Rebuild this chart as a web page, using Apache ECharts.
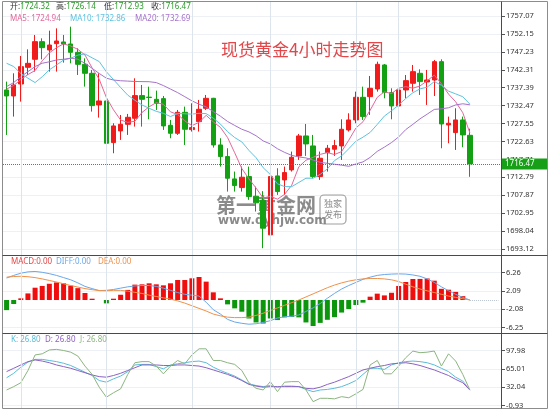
<!DOCTYPE html>
<html>
<head>
<meta charset="utf-8">
<script src="https://cdn.jsdelivr.net/npm/echarts@6/dist/echarts.min.js"></script>
<style>
  html, body { margin: 0; padding: 0; background: #fff; }
  #chart { width: 550px; height: 411px; }
</style>
</head>
<body>
<div id="chart"></div>
<script>
// 4h bars (66 bars in 70 slots)
const slots = Array.from({ length: 70 }, (_, i) => String(i));
const opens = [1736.77,1735.12,1738.41,1742.99,1745.18,1750.03,1747.74,1749.48,1749.94,1749.39,1747.10,1743.81,1741.34,1732.66,1733.75,1722.32,1725.53,1727.35,1729.00,1735.22,1734.80,1734.21,1734.39,1727.08,1724.88,1730.64,1725.89,1728.08,1731.74,1734.48,1721.68,1718.49,1712.36,1709.98,1713.00,1707.60,1706.50,1697.00,1713.18,1712.08,1714.83,1718.67,1724.15,1721.41,1713.00,1719.58,1720.50,1721.41,1725.80,1728.54,1734.76,1734.94,1737.04,1743.63,1736.04,1732.38,1736.77,1738.60,1741.34,1738.97,1739.51,1744.54,1727.17,1725.07,1728.54,1724.32];
const closes = [1735.12,1738.14,1743.17,1744.08,1750.03,1748.38,1749.11,1750.21,1749.39,1747.10,1743.81,1741.34,1732.47,1733.75,1722.14,1726.90,1727.35,1729.27,1735.22,1734.21,1734.70,1733.11,1726.90,1724.88,1730.64,1725.98,1726.44,1731.47,1734.48,1721.68,1718.49,1712.54,1710.53,1712.82,1707.51,1705.80,1698.83,1713.00,1708.88,1714.10,1718.30,1724.15,1721.96,1713.00,1718.03,1720.77,1721.50,1725.98,1728.54,1734.76,1729.46,1737.23,1743.81,1736.04,1732.38,1736.77,1739.33,1741.80,1739.06,1739.51,1744.54,1727.44,1727.63,1728.54,1724.43,1716.47];
const lows = [1724.43,1729.46,1733.57,1740.88,1741.80,1745.18,1741.80,1741.80,1744.27,1744.08,1740.88,1737.68,1730.83,1729.18,1717.11,1719.40,1723.06,1724.43,1726.71,1726.71,1728.72,1731.28,1725.80,1723.52,1724.43,1721.68,1725.35,1725.34,1731.28,1720.95,1715.74,1708.88,1708.88,1708.88,1706.60,1703.40,1693.34,1696.40,1707.97,1707.97,1714.37,1717.57,1718.67,1712.54,1712.08,1714.37,1718.67,1717.57,1725.34,1727.63,1728.54,1729.91,1736.31,1734.48,1728.72,1726.53,1734.48,1736.31,1735.40,1732.66,1735.12,1720.77,1722.14,1720.31,1721.04,1712.93];
const highs = [1739.06,1741.34,1746.10,1747.92,1751.86,1750.94,1753.04,1753.68,1751.86,1754.14,1748.20,1745.45,1742.26,1741.34,1734.03,1727.63,1729.91,1730.19,1739.97,1738.14,1737.68,1736.59,1735.12,1728.54,1731.28,1732.20,1733.11,1734.03,1735.40,1734.60,1723.52,1720.77,1714.37,1715.74,1715.74,1710.25,1709.00,1714.10,1715.28,1715.74,1719.86,1724.70,1727.44,1724.43,1719.86,1721.68,1723.06,1728.72,1730.37,1736.31,1737.68,1740.61,1744.54,1743.90,1737.23,1741.80,1740.88,1743.63,1742.44,1742.26,1745.00,1745.18,1729.46,1731.74,1729.46,1726.14];

const ma5 = [1737.0,1738.0,1739.6,1741.0,1742.11,1744.76,1746.95,1748.36,1749.42,1748.84,1747.92,1746.37,1742.82,1739.69,1734.70,1731.32,1728.52,1727.88,1728.18,1730.59,1732.15,1733.30,1732.83,1730.76,1730.05,1728.30,1726.97,1727.88,1729.80,1728.01,1726.51,1723.73,1719.54,1715.21,1712.38,1709.84,1707.10,1707.59,1706.80,1708.12,1710.62,1715.69,1717.48,1718.30,1719.09,1719.58,1719.05,1719.86,1722.96,1726.31,1728.05,1731.19,1734.76,1736.26,1735.78,1737.25,1737.67,1737.26,1737.87,1739.29,1740.85,1738.47,1735.64,1733.53,1730.52,1724.94];
const ma10 = [1744.1,1743.2,1741.3,1740.0,1738.8,1740.4,1742.3,1743.6,1745.0,1745.47,1746.34,1746.66,1745.59,1744.56,1741.77,1739.62,1737.45,1735.35,1733.94,1732.65,1731.74,1730.91,1730.36,1729.47,1730.32,1730.23,1730.14,1730.36,1730.28,1729.03,1727.41,1725.35,1723.71,1722.51,1720.19,1718.18,1715.42,1713.57,1711.01,1710.25,1710.23,1711.39,1712.54,1712.55,1713.61,1715.10,1717.37,1718.67,1720.63,1722.70,1723.82,1725.12,1727.31,1729.61,1731.05,1732.65,1734.43,1736.01,1737.06,1737.54,1739.05,1738.07,1736.45,1735.70,1734.91,1732.86];
const ma20 = [1737.7,1738.8,1740.4,1741.8,1743.2,1744.1,1744.5,1745.0,1745.2,1745.5,1745.2,1744.1,1742.7,1741.3,1740.0,1739.5,1739.3,1739.2,1739.1,1739.06,1739.04,1738.79,1737.97,1737.01,1736.04,1734.92,1733.79,1732.85,1732.11,1730.84,1729.57,1728.13,1727.03,1725.99,1725.26,1724.20,1722.78,1721.96,1720.64,1719.64,1718.82,1718.37,1718.12,1717.53,1716.90,1716.64,1716.39,1716.12,1715.82,1716.47,1717.02,1718.26,1719.92,1721.08,1722.33,1723.87,1725.90,1727.34,1728.85,1730.12,1731.43,1731.60,1731.88,1732.66,1732.98,1732.69];

const macd = [-2.3,-0.9,0.38,1.5,2.8,3.2,3.7,4.0,3.8,3.27,2.7,1.6,0.3,0,-0.76,0.3,1.2,2.3,3.5,3.57,3.8,3.57,3.34,3.8,4.56,4.56,4.94,5.24,4.18,1.75,0.38,-0.99,-1.9,-2.66,-4.2,-5.1,-5.35,-4.2,-4.56,-3.95,-3.85,-3.95,-5.1,-5.92,-5.2,-4.5,-3.9,-2.85,-2.05,-1.14,-0.6,0.76,1.45,1.05,1.65,3.2,4.1,4.78,4.8,4.9,4.4,2.55,2.35,1.85,0.88,0];
const diff = [5.0,5.6,6.1,6.4,6.5,6.3,6.0,5.6,5.1,4.6,3.9,3.1,2.6,2.15,2.2,2.4,2.7,3.0,3.2,3.3,3.3,3.1,2.7,2.2,1.7,1.3,1.1,0.9,-0.5,-2.2,-3.2,-4.4,-5.0,-5.3,-5.5,-5.4,-5.1,-4.7,-4.1,-3.8,-3.7,-3.4,-2.6,-1.8,-0.8,0.4,1.5,2.5,3.3,4.0,4.7,5.2,5.6,5.8,5.9,5.95,5.9,5.7,5.4,4.8,4.0,3.0,2.1,1.3,0.6,0];
const dea = [5.2,5.35,5.4,5.3,5.1,4.8,4.45,4.1,3.7,3.3,2.95,2.6,2.35,2.15,2.1,2.2,2.2,2.0,1.75,1.5,1.1,0.8,0.5,0.2,-0.2,-0.7,-1.3,-1.9,-2.5,-3.2,-3.6,-3.9,-4.0,-4.0,-3.9,-3.5,-3.0,-2.4,-1.8,-1.2,-0.6,0.0,0.7,1.4,2.1,2.8,3.4,3.9,4.3,4.6,4.8,4.9,4.9,4.8,4.6,4.2,3.6,3.0,2.5,2.1,1.7,1.3,0.9,0.6,0.3,0];

const kLine = [49,57,68,77,82,82,80,78,75,71,65,59,53,44,41,47,52,60,72,73,73,69,65,72,74,76,78,79,76,68,62,57,52,45,38,35,33,35,32,34,34,33,28,24,27,28,30,33,38,44,55,66,66,64,72,76,78,79,78,76,72,66,60,50,43,26.8];
const dLine = [60,66,72,78,81,79,76,72,69,66,62,58,54,51,50,53,57,62,67,72,72,72,71,71,72,72,71,70,67,63,59,55,50,44,37,34,32,33,33,33,33,33,30,29,32,37,41,46,51,57,63,66,69,71,74,75,76,74,71,67,63,58,53,46,40,26.8];
const jLine = [27,33,40,62,90,92,99,100,98,95,88,70,55,32,14,22,29,55,76,78,78,70,56,70,80,74,90,101,101,80,80,76,73,62,40,30,27,42,24,41,42,42,27,6,12,12,11,15,13,20,28,72,80,56,56,70,85,97,94,95,97,70,92,79,55,26.8];

const priceTicks = [1693.12,1698.04,1702.95,1707.87,1712.79,1717.71,1722.63,1727.55,1732.47,1737.39,1742.31,1747.23,1752.15,1757.07];
const macdTicks = [-6.25,-2.08,2.09,6.26];
const kdjTicks = [-0.93,32.04,65.01,97.98];
const dayBreaks = [2, 14, 26, 37, 49, 55];

const RED = '#f01c1c', GREEN = '#13a013';
const last = closes.length - 1;
const f2 = v => v.toFixed(2);
const FONT = '"Noto Sans", "Noto Sans CJK SC", sans-serif';

function nearest(list, v) {
  return f2(list.reduce((b, t) => Math.abs(t - v) < Math.abs(b - v) ? t : b));
}

function valueAxis(gridIndex, ticks) {
  const lo = ticks[0], hi = ticks[ticks.length - 1];
  return {
    type: 'value', gridIndex, position: 'right',
    min: lo, max: hi, interval: (hi - lo) / (ticks.length - 1),
    axisLine: { show: false },
    axisTick: { show: true, length: 3, lineStyle: { color: '#555' } },
    axisLabel: { margin: 4, color: '#333', fontSize: 7.5, fontFamily: FONT, formatter: v => nearest(ticks, v) },
    splitLine: { show: true, lineStyle: { color: '#edf0f4', width: 1 } }
  };
}

function catAxis(gridIndex) {
  return { type: 'category', gridIndex, data: slots, boundaryGap: true, show: false };
}

function lineSeries(name, data, color, xi) {
  return {
    name, type: 'line', data, xAxisIndex: xi, yAxisIndex: xi,
    symbol: 'none', clip: false, silent: true,
    lineStyle: { color, width: 1 }
  };
}

function legendText(x, y, key, val, keyColor, valColor) {
  return {
    type: 'text', x, y, z: 60,
    style: {
      text: `{k|${key}}{v|${val}}`,
      verticalAlign: 'middle',
      rich: {
        k: { fill: keyColor, font: `8px ${FONT}` },
        v: { fill: valColor, font: `8px ${FONT}` }
      }
    }
  };
}

function hLine(x1, y, x2, color) {
  return { type: 'line', z: 50, shape: { x1, y1: y, x2, y2: y }, style: { stroke: color, lineWidth: 1 } };
}

const chart = echarts.init(document.getElementById('chart'));

chart.setOption({
  animation: false,
  backgroundColor: '#fff',
  grid: [
    { left: 3, right: 48, top: 16, height: 233, outerBoundsMode: 'none' },
    { left: 3, right: 48, top: 272.5, height: 55, outerBoundsMode: 'none' },
    { left: 3, right: 48, top: 350.5, height: 55, outerBoundsMode: 'none' },
    { left: 3, right: 48, top: 2, bottom: 2, outerBoundsMode: 'none' }
  ],
  xAxis: [catAxis(0), catAxis(1), catAxis(2), catAxis(3)],
  yAxis: [
    valueAxis(0, priceTicks),
    valueAxis(1, macdTicks),
    valueAxis(2, kdjTicks),
    { type: 'value', gridIndex: 3, min: 0, max: 1, show: false }
  ],
  series: [
    {
      type: 'candlestick', xAxisIndex: 0, yAxisIndex: 0, barWidth: 5, silent: true,
      data: opens.map((o, i) => [o, closes[i], lows[i], highs[i]]),
      itemStyle: { color: RED, color0: GREEN, borderColor: RED, borderColor0: GREEN, borderWidth: 1 },
      markLine: {
        silent: true, symbol: ['none', 'none'],
        lineStyle: { color: '#2f9e2f', type: 'dotted', width: 1 },
        label: {
          position: 'end', distance: 0, formatter: f2(closes[last]),
          backgroundColor: '#17a017', color: '#fff', fontSize: 8, fontFamily: FONT,
          padding: [2, 13, 1, 3]
        },
        data: [{ yAxis: closes[last] }]
      }
    },
    lineSeries('MA5', ma5, '#e4679a', 0),
    lineSeries('MA10', ma10, '#5cc3e0', 0),
    lineSeries('MA20', ma20, '#a673cc', 0),
    {
      type: 'bar', xAxisIndex: 1, yAxisIndex: 1, barWidth: 5, silent: true,
      data: macd,
      itemStyle: { color: p => p.value >= 0 ? '#f00d0d' : '#0c960c' },
      markLine: {
        silent: true, symbol: ['none', 'none'],
        lineStyle: { color: '#b8c4d0', type: 'dotted', width: 1 },
        label: { show: false },
        data: [[{ coord: [last, 0] }, { coord: [slots.length - 1, 0] }]]
      }
    },
    lineSeries('DIFF', diff, '#6aa8e8', 1),
    lineSeries('DEA', dea, '#f0914a', 1),
    lineSeries('K', kLine, '#5bbcd8', 2),
    lineSeries('D', dLine, '#8c62c2', 2),
    lineSeries('J', jLine, '#8cb57f', 2),
    {
      // carrier for the day separators, spans all three panels
      type: 'line', xAxisIndex: 3, yAxisIndex: 3, data: [0], z: 1, silent: true,
      symbol: 'none', lineStyle: { opacity: 0 },
      markLine: {
        silent: true, symbol: ['none', 'none'],
        lineStyle: { color: '#dde4eb', type: 'solid', width: 1 },
        label: { show: false },
        data: dayBreaks.map(i => ({ xAxis: i }))
      }
    }
  ],
  graphic: [
    // frame, panel separators, price axis line
    { type: 'rect', z: 50, shape: { x: 2.5, y: 1.5, width: 545, height: 407 }, style: { fill: null, stroke: '#8c8c8c', lineWidth: 1 } },
    hLine(2.5, 255.5, 547.5, '#4a4a4a'),
    hLine(2.5, 333.5, 547.5, '#4a4a4a'),
    { type: 'line', z: 50, shape: { x1: 501.5, y1: 1.5, x2: 501.5, y2: 408.5 }, style: { stroke: '#4a4a4a', lineWidth: 1 } },

    // price legend
    legendText(10, 7, '开:', f2(opens[last]), '#333', '#2e9a2e'),
    legendText(56, 7, '高:', f2(highs[last]), '#333', '#2e9a2e'),
    legendText(104, 7, '低:', f2(lows[last]), '#333', '#2e9a2e'),
    legendText(151, 7, '收:', f2(closes[last]), '#333', '#2e9a2e'),
    legendText(10, 19, 'MA5: ', f2(ma5[last]), '#e4679a', '#e4679a'),
    legendText(70, 19, 'MA10: ', f2(ma10[last]), '#5cc3e0', '#5cc3e0'),
    legendText(135, 19, 'MA20: ', f2(ma20[last]), '#a673cc', '#a673cc'),

    // MACD legend
    legendText(11, 262, 'MACD:', f2(macd[last]), '#e04848', '#e04848'),
    legendText(56, 262, 'DIFF:', f2(diff[last]), '#6aa8e8', '#6aa8e8'),
    legendText(98, 262, 'DEA:', f2(dea[last]), '#f0914a', '#f0914a'),

    // KDJ legend
    legendText(11, 339.5, 'K: ', f2(kLine[last]), '#5bbcd8', '#5bbcd8'),
    legendText(45, 339.5, 'D: ', f2(dLine[last]), '#8c62c2', '#8c62c2'),
    legendText(80, 339.5, 'J: ', f2(jLine[last]), '#8cb57f', '#8cb57f'),

    // title
    {
      type: 'text', x: 221, y: 50, z: 100,
      style: { text: '现货黄金4小时走势图', fill: '#e2474a', font: '17px "Noto Sans CJK SC", sans-serif', verticalAlign: 'middle' }
    },

    // watermark
    {
      type: 'text', x: 216, y: 205, z: 1,
      style: { text: '第一黄金网', fill: 'rgba(110,110,110,0.8)', font: 'bold 20px "Noto Sans CJK SC", sans-serif', verticalAlign: 'middle' }
    },
    {
      type: 'text', x: 218, y: 221, z: 1,
      style: { text: 'www.dyhjw.com', fill: 'rgba(110,110,110,0.8)', font: 'bold 12px "DejaVu Sans", sans-serif', verticalAlign: 'middle' }
    },
    {
      type: 'rect', z: 1, shape: { x: 320, y: 195, width: 26, height: 29, r: 4 },
      style: { fill: null, stroke: 'rgba(120,120,120,0.7)', lineWidth: 1.2 }
    },
    {
      type: 'text', x: 333, y: 209.5, z: 1,
      style: { text: '独家\n发布', fill: 'rgba(110,110,110,0.8)', font: '9px "Noto Sans CJK SC", sans-serif', align: 'center', verticalAlign: 'middle', lineHeight: 11 }
    }
  ]
});
</script>
</body>
</html>
